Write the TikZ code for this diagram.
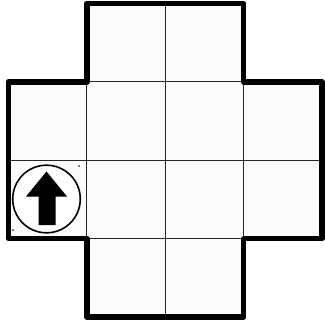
\documentclass[tikz,border=0pt]{standalone}
\usepackage{tikz}
\usetikzlibrary{calc}

\tikzset{
  cellbox/.style={fill=black!1.5, draw=black!85, line width=0.3pt},
  outline/.style={line width=1.55pt, line join=round},
  marker/.style={draw, fill=white, line width=0.45pt},
}

\begin{document}
\begin{tikzpicture}[x=0.01cm, y=-0.01cm]

%---------------------------------------
% Grid geometry
%---------------------------------------
\def\X{8.5}     % left edge
\def\Y{3.5}     % top edge
\def\S{78.4}    % cell size

\useasboundingbox (0,0) rectangle (325,324);

%---------------------------------------
% Cells (column, row)
%---------------------------------------
\foreach \c/\r in {1/0,2/0, 0/1,1/1,2/1,3/1, 0/2,1/2,2/2,3/2, 1/3,2/3}
  \draw[cellbox] ({\X+\c*\S},{\Y+\r*\S}) rectangle ++(\S,\S);

%---------------------------------------
% Thick outer border
%---------------------------------------
\draw[outline]
  ({\X+\S},\Y) -- ({\X+3*\S},\Y) -- ({\X+3*\S},{\Y+\S})
  -- ({\X+4*\S},{\Y+\S}) -- ({\X+4*\S},{\Y+3*\S})
  -- ({\X+3*\S},{\Y+3*\S}) -- ({\X+3*\S},{\Y+4*\S})
  -- ({\X+\S},{\Y+4*\S}) -- ({\X+\S},{\Y+3*\S})
  -- (\X,{\Y+3*\S}) -- (\X,{\Y+\S}) -- ({\X+\S},{\Y+\S}) -- cycle;

%---------------------------------------
% Start marker: circle with up arrow
%---------------------------------------
\coordinate (start) at (46.5,199);
\draw[marker] (start) circle (33.8);
\fill ($(start)+(0,-27.5)$) -- ++(20.5,25) -- ++(-11.5,0) -- ++(0,28.5)
  -- ++(-17,0) -- ++(0,-28.5) -- ++(-12.5,0) -- cycle;

% stray dots
\fill (79,166) circle (0.8);
\fill (13,230) circle (0.8);

\end{tikzpicture}
\end{document}
